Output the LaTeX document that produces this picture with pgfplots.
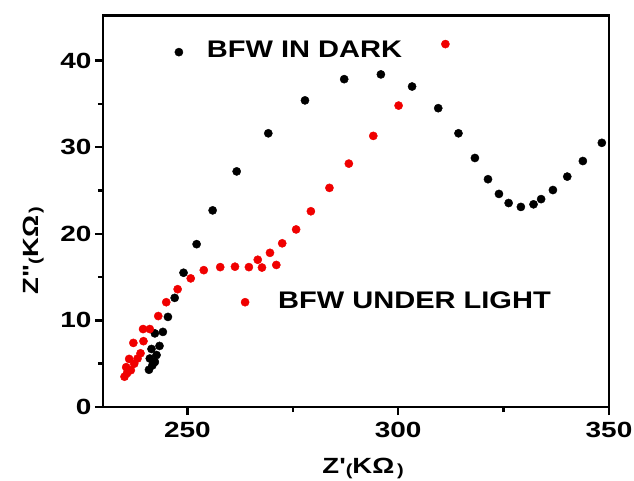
\documentclass[border=0pt]{standalone}
\usepackage{pgfplots}
\pgfplotsset{compat=1.18}
\usepackage{fontspec}
\setmainfont{Liberation Sans}
\newfontfamily\tickf{Liberation Sans}[FakeStretch=1.27]
\newfontfamily\legf{Liberation Sans}[FakeStretch=1.21]
\newfontfamily\labf{Liberation Sans}[FakeStretch=1.25]
\definecolor{myred}{RGB}{240,0,0}
\begin{document}
\begin{tikzpicture}
\useasboundingbox (-103pt,-73pt) rectangle (531pt,407pt);
\begin{axis}[
  scale only axis,
  width=506pt, height=391.5pt,
  xmin=230, xmax=350, ymin=0, ymax=45.2,
  xtick={250,300,350}, minor xtick={275,325},
  ytick={0,10,20,30,40}, minor ytick={5,15,25,35},
  xtick pos=bottom, ytick pos=left,
  tick align=outside,
  major tick length=8pt, minor tick length=5pt,
  separate axis lines,
  axis line style={line width=2.6pt, line cap=rect},
  major tick style={line width=2.4pt, black},
  minor tick style={line width=2.4pt, black},
  /pgf/number format/assume math mode=true,
  tick label style={font=\tickf\bfseries\fontsize{22}{22}\selectfont},
  xticklabel style={yshift=-4pt},
  xlabel={\labf\bfseries\fontsize{22}{22}\selectfont Z\symbol{39}{\fontsize{16}{16}\selectfont\raisebox{-1.5pt}{(}}KΩ{\fontsize{16}{16}\selectfont\raisebox{-1.5pt}{\,)}}},
  xlabel style={at={(axis description cs:0.514,-0.157)}, anchor=center, inner sep=0pt},
  ylabel={\labf\bfseries\fontsize{22}{22}\selectfont Z\symbol{34}{\fontsize{16}{16}\selectfont\raisebox{-1.5pt}{(}}KΩ{\fontsize{16}{16}\selectfont\raisebox{-1.5pt}{\,)}}},
  ylabel style={at={(axis description cs:-0.137,0.40)}, anchor=center, rotate=0, inner sep=0pt},
  clip=false,
]
% BFW in dark
\addplot[only marks, mark=*, mark size=4.1pt, black] coordinates {
(240.9,4.3) (241.7,4.8) (242.3,5.2) (241.1,5.6) (242.7,6.0) (241.5,6.7)
(243.4,7.05) (242.3,8.5) (244.2,8.67) (245.4,10.4) (247.0,12.6) (249.1,15.5)
(252.2,18.8) (256.0,22.7) (261.7,27.2) (269.2,31.6) (277.9,35.4) (287.2,37.85)
(295.9,38.4) (303.3,37.0) (309.5,34.5) (314.3,31.6) (318.2,28.75) (321.3,26.3)
(323.9,24.6) (326.2,23.55) (329.1,23.1) (332.1,23.4) (333.9,24.0) (336.7,25.05)
(340.1,26.6) (343.8,28.4) (348.3,30.5)
};
% BFW under light
\addplot[only marks, mark=*, mark size=4.1pt, myred] coordinates {
(235.1,3.5) (235.7,3.9) (236.6,4.25) (235.5,4.6) (237.4,5.0) (236.2,5.55)
(238.2,5.6) (238.9,6.2) (237.2,7.4) (239.6,7.6) (239.5,9.0) (241.1,9.0)
(243.1,10.5) (245.0,12.1) (247.7,13.6) (250.8,14.85) (253.9,15.8) (257.8,16.15)
(261.3,16.2) (264.6,16.15) (266.7,17.0) (267.7,16.1) (269.6,17.8) (271.1,16.4)
(272.5,18.9) (275.8,20.5) (279.3,22.6) (283.7,25.3) (288.3,28.1) (294.1,31.3)
(300.1,34.8) (311.2,41.9)
};
% legend markers
\addplot[only marks, mark=*, mark size=4.1pt, black] coordinates {(248.0,40.97)};
\addplot[only marks, mark=*, mark size=4.1pt, myred] coordinates {(263.7,12.1)};
\node[anchor=west, inner sep=0pt, font=\legf\bfseries\fontsize{24}{24}\selectfont] at (axis cs:254.6,41.35) {BFW IN DARK};
\node[anchor=west, inner sep=0pt, font=\legf\bfseries\fontsize{24}{24}\selectfont] at (axis cs:271.5,12.33) {BFW UNDER LIGHT};
\end{axis}
\end{tikzpicture}
\end{document}
